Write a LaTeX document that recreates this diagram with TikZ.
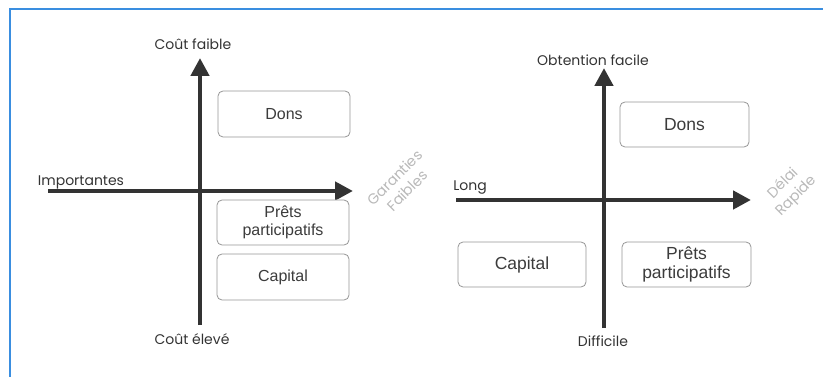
\documentclass[tikz,border=0pt]{standalone}
\usepackage{fontspec}
\setmainfont{Liberation Sans}
\newfontfamily\axisfont{Poppins}
\usetikzlibrary{positioning, arrows.meta}
\definecolor{axisgray}{RGB}{51,51,51}
\definecolor{boxedge}{RGB}{150,150,150}
\definecolor{frameblue}{RGB}{58,142,224}
\definecolor{textgray}{RGB}{60,60,60}
\definecolor{faintgray}{RGB}{185,185,185}
\tikzset{
  quadbox/.style = {rectangle, draw=boxedge, fill=white, rounded corners=5pt,
                    line width=0.8pt, minimum width=132pt, minimum height=46pt,
                    align=center, text=textgray, inner sep=2pt,
                    font=\fontsize{16}{18}\selectfont},
  quadboxr/.style = {quadbox, minimum width=129pt, minimum height=45pt,
                     font=\fontsize{17.5}{19}\selectfont},
  axislabel/.style = {font=\axisfont\fontsize{14}{16}\selectfont, text=axisgray, inner sep=1pt},
  sidelabel/.style = {font=\axisfont\fontsize{14.5}{18}\selectfont, text=faintgray,
                      align=center, rotate=45},
  axisarrow/.style = {-{Triangle[length=18pt,width=18pt]}, line width=4.5pt, draw=axisgray}
}

\begin{document}
\begin{tikzpicture}[x=1pt, y=-1pt]
\useasboundingbox (0,0) rectangle (823,377);
\draw[frameblue, line width=1.5pt] (10,377) -- (10,9) -- (823,9);

% left chart: cost vs guarantees
\coordinate (lxs) at (48,191);
\coordinate (lxe) at (353,191);
\coordinate (lys) at (200,325);
\coordinate (lye) at (200,58);
\draw[axisarrow] (lys) -- (lye);
\draw[axisarrow] (lxs) -- (lxe);
\node[axislabel] (lfaible) at (193,44)  {Coût faible};
\node[axislabel] (leleve)  at (192,339) {Coût élevé};
\node[axislabel] (limp)    at (81,182)  {Importantes};
\node[sidelabel] (lgar)    at (401,184) {Garanties\\Faibles};
\node[quadbox] (ldons)    at (284,114)   {Dons};
\node[quadbox, minimum height=45pt] (lprets) at (283,222.5) {Prêts\\participatifs};
\node[quadbox] (lcapital) at (283,277)   {Capital};

% right chart: ease vs delay
\coordinate (rxs) at (456,200);
\coordinate (rxe) at (751,200);
\coordinate (rys) at (604,328);
\coordinate (rye) at (604,68);
\draw[axisarrow] (rys) -- (rye);
\draw[axisarrow] (rxs) -- (rxe);
\node[axislabel] (rfacile) at (593,60)  {Obtention facile};
\node[axislabel] (rdiff)   at (603,341) {Difficile};
\node[axislabel] (rlong)   at (470,188) {Long};
\node[sidelabel] (rdelai)  at (790,190) {Délai\\Rapide};
\node[quadboxr] (rdons)    at (684.5,124.5) {Dons};
\node[quadboxr, minimum width=128pt] (rcapital) at (522,264.5) {Capital};
\node[quadboxr] (rprets)   at (686.5,264.5) {Prêts\\participatifs};
\end{tikzpicture}
\end{document}
